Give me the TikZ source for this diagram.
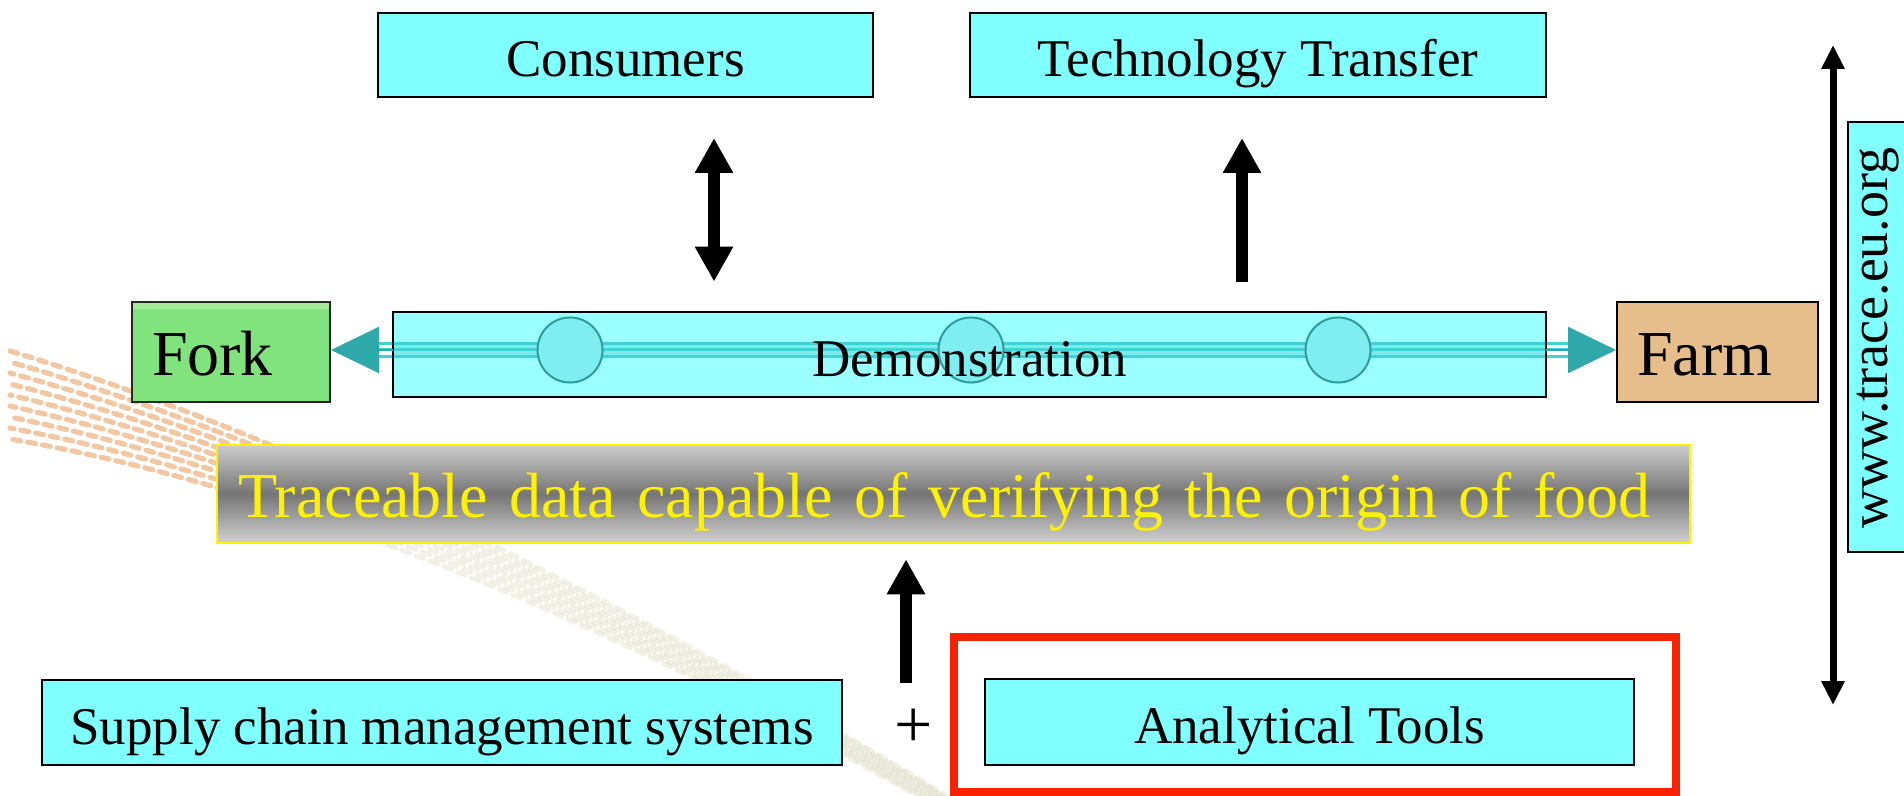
\documentclass[tikz,border=0pt]{standalone}
\usepackage{fontspec}
\setmainfont{Liberation Serif}
\usetikzlibrary{arrows.meta,calc}
\definecolor{boxcyan}{HTML}{80FFFF}
\definecolor{democyan}{HTML}{9CFFFF}
\definecolor{ballfill}{HTML}{7FEEF0}
\definecolor{ballline}{HTML}{2F9B9D}
\definecolor{pipeteal}{HTML}{3FD2D6}
\definecolor{pipegap}{HTML}{7CE9EB}
\definecolor{tipteal}{HTML}{2EA8A8}
\definecolor{forkgreen}{HTML}{80E37E}
\definecolor{forklight}{HTML}{A4EB98}
\definecolor{farmtan}{HTML}{E6BE8C}
\definecolor{hired}{HTML}{F82200}
\definecolor{swoosha}{HTML}{F3C7A2}
\definecolor{swooshb}{HTML}{DCDCC4}
\begin{document}
\begin{tikzpicture}[x=0.5pt,y=-0.5pt,
  lblfont/.style={font=\fontsize{26.5}{30}\selectfont, text height=21.7pt, text depth=0pt},
  cbox/.style={draw=black, line width=1pt, fill=boxcyan, inner sep=0pt, lblfont},
  bigfont/.style={font=\fontsize{32}{36}\selectfont, text height=23.7pt, text depth=0pt},
  bigarrow/.style={line width=6pt, -{Triangle[length=17.5pt,width=18pt]}},
  bigdarrow/.style={line width=6pt, {Triangle[length=17.5pt,width=18pt]}-{Triangle[length=17.5pt,width=18pt]}},
  longarrow/.style={line width=3.5pt, {Triangle[length=12pt,width=11pt]}-{Triangle[length=12pt,width=11pt]}},
  pipe/.style={pipeteal, line width=1.5pt},
  tealtip/.style={tipteal, line width=1pt, -{Triangle[length=24pt,width=23pt]}},
  ball/.style={circle, minimum size=32.5pt, inner sep=0pt, fill=ballfill, draw=ballline, line width=1pt},
  swo/.style={line width=2.6pt, line cap=round, dash pattern=on 4pt off 3.5pt}
]
\useasboundingbox (0,0) rectangle (1904,796);

% faint dotted swoosh in the background
\begin{scope}
  \clip (0,300) rectangle (330,600);
  \foreach \i/\ph in {-4/0,-3/5,-2/2,-1/6,0/3,1/1,2/5,3/2,4/6}
    \draw[swo, swoosha, dash phase=\ph pt]
      (10,{395+11*\i}) .. controls (250,{452+7*\i}) and (560,{575+4*\i}) .. (960,{812+2*\i});
\end{scope}
\begin{scope}
  \clip (330,300) rectangle (1000,796);
  \foreach \i/\ph in {-4/0,-3/5,-2/2,-1/6,0/3,1/1,2/5,3/2,4/6}
    \draw[swo, swooshb, opacity=0.4, dash phase=\ph pt]
      (10,{395+11*\i}) .. controls (250,{452+7*\i}) and (560,{575+4*\i}) .. (960,{812+2*\i});
\end{scope}

% top row
\node[cbox, minimum width=247.5pt, minimum height=42pt] (cons) at (625.5,55) {Consumers};
\node[cbox, minimum width=288pt, minimum height=42pt] (tech) at (1258,55) {Technology Transfer};

% demonstration chain
\node[fill=democyan, minimum width=576.5pt, minimum height=42.5pt, inner sep=0pt] (demo) at (969.5,354.5) {};
\coordinate (pl) at (378,350);
\coordinate (pr) at (1570,350);
\fill[pipegap] ($(demo.west |- pl)+(0,-6.5)$) rectangle ($(demo.east |- pl)+(0,6.5)$);
\foreach \dy in {-6.5,0,6.5}
  \draw[pipe] ($(pl)+(0,\dy)$) -- ($(pr)+(0,\dy)$);
\node[ball] (b1) at (570,350) {};
\node[ball] (b2) at (971,350) {};
\node[ball] (b3) at (1338,350) {};
\node[draw=black, line width=1pt, minimum width=576.5pt, minimum height=42.5pt, inner sep=0pt,
  lblfont] (demolbl) at (969.5,354.5) {Demonstration};

\node[draw=black!85, line width=1pt, fill=forkgreen, bigfont, text width=79pt, align=left,
  inner xsep=10pt, inner ysep=0pt, minimum height=50pt] (fork) at (231,352) {Fork};
\fill[forklight] ($(fork.north west)+(2,2)$) rectangle ($(fork.north east)+(-2,8)$);
\node[draw=black, line width=1pt, fill=farmtan, bigfont, text width=80.5pt, align=left,
  inner xsep=10pt, inner ysep=0pt, minimum height=50pt] (farm) at (1717.5,352) {Farm};

\draw[tealtip] (demo.west |- pl) -- (fork.east |- pl);
\draw[tealtip] (demo.east |- pr) -- (farm.west |- pr);

% arrows between the top row and the chain
\coordinate (ca) at (714,0);
\coordinate (ta) at (1242,0);
\draw[bigdarrow, shorten <=20pt, shorten >=15pt] (cons.south -| ca) -- (demo.north -| ca);
\draw[bigarrow, shorten <=15pt, shorten >=20pt] (demo.north -| ta) -- (tech.south -| ta);

% traceable data bar
\node[draw=yellow, line width=1.25pt, top color=black!20, bottom color=black!18, middle color=black!54,
  text=yellow, font=\fontsize{32}{36}\selectfont, text height=23pt, text depth=0pt,
  text width=715.5pt, align=left, inner xsep=10.5pt, inner ysep=0pt,
  minimum height=49pt] (trace) at (953.5,494) {Traceable data capable of verifying the origin of food};

% bottom row
\node[cbox, minimum width=400pt, minimum height=42.5pt] (supply) at (442,722.5) {Supply chain management systems};
\node[font=\fontsize{34}{34}\selectfont, inner sep=0pt] (plus) at (914,728) {+};
\node[draw=hired, line width=4pt, minimum width=361pt, minimum height=77.5pt, inner sep=0pt] (hl) at (1315,714.5) {};
\node[cbox, minimum width=324.5pt, minimum height=43pt] (anal) at (1309.5,722) {Analytical Tools};

\coordinate (up) at (906,683);
\draw[bigarrow, shorten >=7.5pt] (up) -- (trace.south -| up);

% side bar
\coordinate (vt) at (1833,45);
\coordinate (vb) at (1833,705);
\draw[longarrow] (vt) -- (vb);
\node[cbox, rotate=90, minimum width=215pt, minimum height=39pt] (www) at (1887,337) {};
\node[rotate=90, inner sep=0pt, font=\fontsize{27}{30}\selectfont] (wwwlbl) at (1878,338) {www.trace.eu.org};
\end{tikzpicture}
\end{document}
